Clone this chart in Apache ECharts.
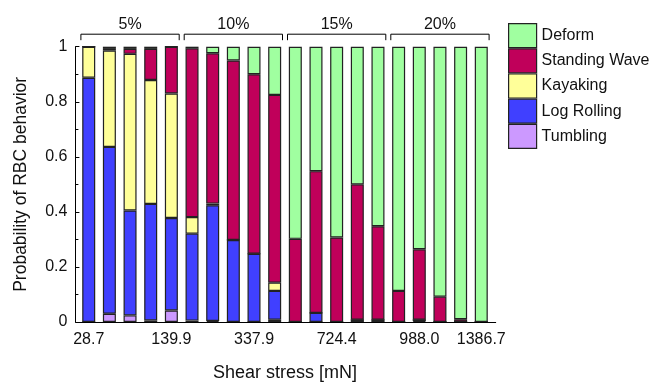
<!DOCTYPE html>
<html>
<head>
<meta charset="utf-8">
<script src="https://cdn.jsdelivr.net/npm/echarts@6/dist/echarts.min.js"></script>
<style>
html,body{margin:0;padding:0;background:#fff;}
#c{width:661px;height:387px;}
</style>
</head>
<body>
<div id="c"></div>
<script>
// Bars: 4 groups (5%,10%,15%,20%) x 5 shear stresses
const categories = ['b1','b2','b3','b4','b5','b6','b7','b8','b9','b10','b11','b12','b13','b14','b15','b16','b17','b18','b19','b20'];
const tickLabels = ['28.7','','','','139.9','','','','337.9','','','','724.4','','','','988.0','','','1386.7'];
const groupLabels = ['5%','10%','15%','20%'];
const groupSize = 5;
const seriesNames = ['Tumbling','Log Rolling','Kayaking','Standing Wave','Deform'];
const legendOrder = ['Deform','Standing Wave','Kayaking','Log Rolling','Tumbling'];
const colors = ['#cc99ff','#4040ff','#ffff99','#c0005a','#a0ffa0'];

const tumbling     = [0, 0.030, 0.024, 0.006, 0.042, 0.005, 0.004, 0, 0, 0.008, 0, 0, 0, 0, 0, 0, 0.003, 0, 0, 0];
const logRolling   = [0.887, 0.606, 0.381, 0.423, 0.336, 0.316, 0.420, 0.298, 0.248, 0.105, 0, 0.033, 0, 0.008, 0.008, 0, 0.005, 0, 0, 0];
const kayaking     = [0.113, 0.350, 0.569, 0.450, 0.452, 0.060, 0.006, 0, 0, 0.030, 0, 0, 0, 0, 0, 0, 0, 0, 0, 0];
const standingWave = [0, 0.006, 0.018, 0.113, 0.170, 0.613, 0.546, 0.652, 0.652, 0.682, 0.302, 0.515, 0.307, 0.492, 0.340, 0.113, 0.256, 0.092, 0.010, 0];
const deform       = [0, 0.008, 0.008, 0.008, 0, 0.006, 0.024, 0.050, 0.100, 0.175, 0.698, 0.452, 0.693, 0.500, 0.652, 0.887, 0.736, 0.908, 0.990, 1];

const seriesData = [tumbling, logRolling, kayaking, standingWave, deform];
const FONT = '"Liberation Sans", Arial, sans-serif';
const TXT = '#111';

const chart = echarts.init(document.getElementById('c'), null, {renderer:'canvas'});

const option = {
  animation: false,
  backgroundColor: '#fff',
  textStyle: {fontFamily: FONT, color: TXT},
  grid: {left: 78.4, right: 169.4, top: 46.7, bottom: 60.3, containLabel: false},
  legend: {
    data: legendOrder,
    orient: 'vertical',
    left: 508, top: 23,
    icon: 'rect',
    itemWidth: 28, itemHeight: 24, itemGap: 0,
    padding: 0,
    itemStyle: {borderColor: '#222', borderWidth: 1.2},
    textStyle: {fontSize: 16, color: TXT, fontFamily: FONT, lineHeight: 18, padding: 0},
    selectedMode: false
  },
  xAxis: {
    type: 'category',
    data: categories,
    axisLine: {show: false},
    axisTick: {show: false},
    axisLabel: {interval: 0, fontSize: 16, color: TXT, margin: 10,
      formatter: (v, i) => tickLabels[i]},
    name: 'Shear stress [mN]',
    nameLocation: 'middle',
    nameGap: 42,
    nameTextStyle: {fontSize: 18, color: TXT}
  },
  yAxis: {
    type: 'value',
    min: 0, max: 1, interval: 0.2,
    offset: 3,
    axisLine: {show: true, lineStyle: {color: '#000', width: 1}},
    axisTick: {show: true, inside: true, length: 4, lineStyle: {color: '#000'}},
    minorTick: {show: true, splitNumber: 2, length: 3, lineStyle: {color: '#000'}},
    splitLine: {show: false},
    axisLabel: {fontSize: 16, color: TXT, margin: 8},
    name: 'Probability of RBC behavior',
    nameLocation: 'middle',
    nameGap: 45,
    nameTextStyle: {fontSize: 17.5, color: TXT}
  },
  series: seriesNames.map((n, k) => ({
    name: n,
    type: 'bar',
    stack: 'all',
    data: seriesData[k],
    barWidth: 13,
    itemStyle: {color: colors[k], borderColor: '#222', borderWidth: 1.2},
    emphasis: {disabled: true}
  }))
};
chart.setOption(option);

// Decorations: x axis baseline and group brackets, positioned from the axes
const c0 = chart.convertToPixel({xAxisIndex: 0}, 0);
const c1 = chart.convertToPixel({xAxisIndex: 0}, 1);
const pitch = c1 - c0;
const yBase = chart.convertToPixel({yAxisIndex: 0}, 0);
const yTop = chart.convertToPixel({yAxisIndex: 0}, 1);
const axisX = c0 - pitch / 2 - 3;
const lastX = chart.convertToPixel({xAxisIndex: 0}, categories.length - 1) + pitch / 2 + 4.5;
const els = [];
els.push({type: 'line', shape: {x1: axisX, y1: yBase + 0.5, x2: lastX, y2: yBase + 0.5},
  style: {stroke: '#000', lineWidth: 1}, z: 10});
const bY = yTop - 12.5, tickBottom = yTop - 6.5;
groupLabels.forEach((g, gi) => {
  const first = chart.convertToPixel({xAxisIndex: 0}, gi * groupSize);
  const last = chart.convertToPixel({xAxisIndex: 0}, gi * groupSize + groupSize - 1);
  const x1 = first - pitch / 2 + 2.5, x2 = last + pitch / 2 - 2.5;
  els.push({type: 'polyline', shape: {points: [[x1, tickBottom], [x1, bY], [x2, bY], [x2, tickBottom]]},
    style: {stroke: '#000', lineWidth: 1, fill: null}, z: 10});
  els.push({type: 'text', x: (x1 + x2) / 2, y: bY - 10,
    style: {text: g, fontSize: 16, fontFamily: FONT, fill: TXT, align: 'center', verticalAlign: 'middle'}, z: 10});
});
chart.setOption({graphic: els});
</script>
</body>
</html>
